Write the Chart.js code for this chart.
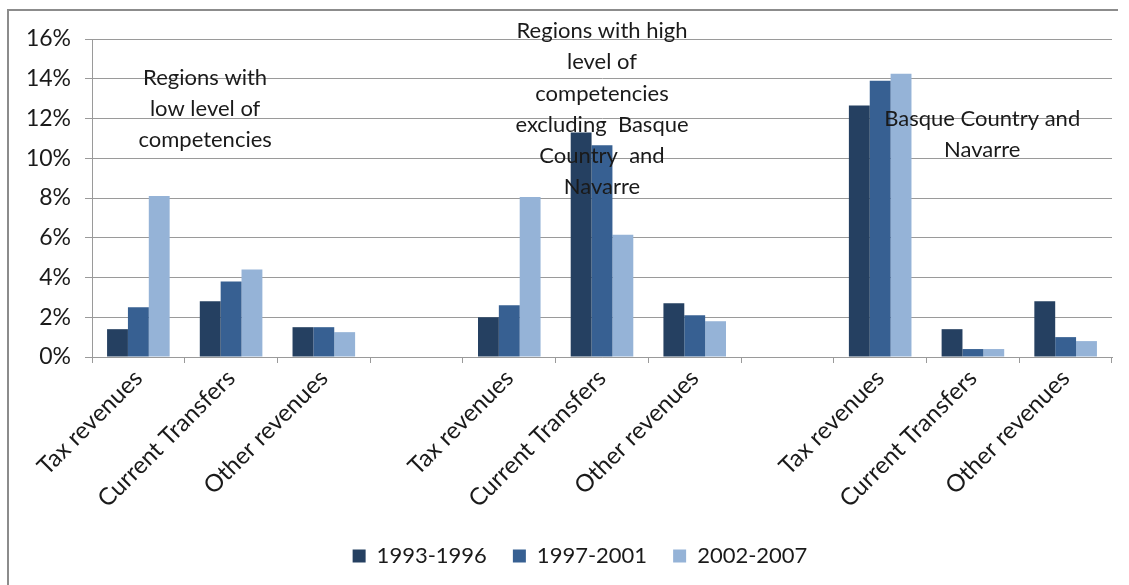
<!DOCTYPE html>
<html>
<head>
<meta charset="utf-8">
<script src="https://cdn.jsdelivr.net/npm/chart.js@4/dist/chart.umd.min.js"></script>
<style>
  html, body { margin: 0; padding: 0; background: #fff; }
  #wrap { width: 1129px; height: 585px; position: relative; }
</style>
</head>
<body>
<div id="wrap"><canvas id="c"></canvas></div>
<script>
// Revenue items, three blocks of regions separated by an empty slot
const categories = [
  'Tax revenues', 'Current Transfers', 'Other revenues', '',
  'Tax revenues', 'Current Transfers', 'Other revenues', '',
  'Tax revenues', 'Current Transfers', 'Other revenues'
];

// Shares in percent, by period
const period1993_1996 = [1.4, 2.8, 1.5, null, 2.0, 11.3, 2.7, null, 12.65, 1.4, 2.8];
const period1997_2001 = [2.5, 3.8, 1.5, null, 2.6, 10.65, 2.1, null, 13.9, 0.4, 1.0];
const period2002_2007 = [8.1, 4.4, 1.25, null, 8.05, 6.15, 1.8, null, 14.25, 0.4, 0.8];

const seriesLabels = ['1993-1996', '1997-2001', '2002-2007'];
const seriesColors = ['#254061', '#376092', '#95B3D7'];

const yTicks = [0, 2, 4, 6, 8, 10, 12, 14, 16];

// Block titles: x in category units, y in axis units (first line)
const blockTitles = [
  { x: 0.72, y: 14.05, lines: ['Regions with', 'low level of', 'competencies'] },
  { x: 5.0, y: 16.4, lines: ['Regions with high', 'level of', 'competencies', 'excluding  Basque', 'Country  and', 'Navarre'] },
  { x: 9.1, y: 12.0, lines: ['Basque Country and', 'Navarre'] }
];

const FONT = 'Lato, "Open Sans", sans-serif';
const TEXT = '#1a1a1a';
const GRID = '#9a9a9a';

const framePlugin = {
  id: 'frame',
  beforeDraw(chart) {
    const ctx = chart.ctx;
    ctx.save();
    ctx.fillStyle = '#fff';
    ctx.fillRect(0, 0, chart.width, chart.height);
    ctx.strokeStyle = '#8c8c8c';
    ctx.lineWidth = 2;
    ctx.beginPath();
    ctx.moveTo(8, 585);
    ctx.lineTo(8, 10);
    ctx.lineTo(1118, 10);
    ctx.stroke();
    ctx.restore();
  }
};

// The legend row sits a little right of the canvas centre
const legendShift = {
  id: 'legendShift',
  afterLayout(chart) {
    if (chart.legend) {
      chart.legend.left += 24;
      chart.legend.right += 24;
    }
  }
};

const titlesPlugin = {
  id: 'blockTitles',
  afterDatasetsDraw(chart) {
    const ctx = chart.ctx;
    const xs = chart.scales.x, ys = chart.scales.y;
    const step = (xs.right - xs.left) / categories.length;
    ctx.save();
    ctx.font = '22px ' + FONT;
    ctx.fillStyle = TEXT;
    ctx.textAlign = 'center';
    ctx.textBaseline = 'middle';
    blockTitles.forEach(t => {
      const px = xs.left + (t.x + 0.5) * step;
      const py = ys.getPixelForValue(t.y);
      t.lines.forEach((ln, i) => ctx.fillText(ln, px, py + i * 31.2));
    });
    ctx.restore();
  }
};

new Chart(document.getElementById('c'), {
  type: 'bar',
  data: {
    labels: categories,
    datasets: [
      { label: seriesLabels[0], data: period1993_1996, backgroundColor: seriesColors[0] },
      { label: seriesLabels[1], data: period1997_2001, backgroundColor: seriesColors[1] },
      { label: seriesLabels[2], data: period2002_2007, backgroundColor: seriesColors[2] }
    ]
  },
  options: {
    responsive: true,
    maintainAspectRatio: false,
    animation: false,
    devicePixelRatio: 1,
    layout: { padding: { top: 39, right: 17, left: 0, bottom: 8 } },
    datasets: { bar: { categoryPercentage: 0.675, barPercentage: 1.0 } },
    scales: {
      x: {
        grid: { display: true, drawOnChartArea: false, drawTicks: true, tickLength: 6, color: GRID, offset: true },
        border: { display: true, color: GRID, width: 1 },
        ticks: {
          color: TEXT, font: { family: FONT, size: 24 },
          maxRotation: 45, minRotation: 45, padding: 1, autoSkip: false
        },
        afterFit(s) { s.height = 162; }
      },
      y: {
        min: 0, max: 16,
        afterBuildTicks(s) { s.ticks = yTicks.map(v => ({ value: v })); },
        grid: { color: GRID, lineWidth: 1, tickLength: 7 },
        border: { display: true, color: GRID, width: 1 },
        ticks: {
          color: TEXT, font: { family: FONT, size: 23 }, padding: 14,
          callback: v => v + '%'
        },
        afterFit(s) { s.width = 92; }
      }
    },
    plugins: {
      legend: {
        position: 'bottom',
        labels: {
          color: TEXT, font: { family: FONT, size: 22 },
          boxWidth: 13, boxHeight: 13, padding: 26
        }
      },
      tooltip: { enabled: false }
    }
  },
  plugins: [framePlugin, legendShift, titlesPlugin]
});
</script>
</body>
</html>
